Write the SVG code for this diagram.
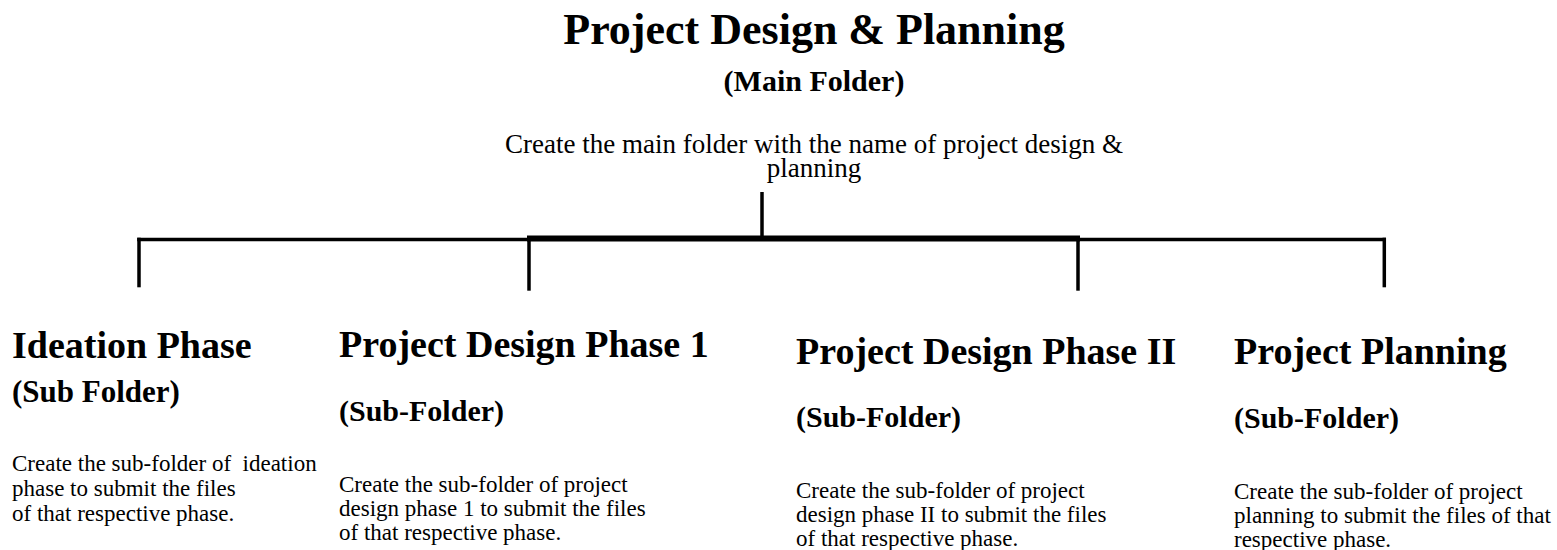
<svg xmlns="http://www.w3.org/2000/svg" width="1557" height="550" viewBox="0 0 1557 550">
<style>
text{font-family:"Liberation Serif","Times New Roman",serif;fill:#000}
.t{font-size:44px;font-weight:bold;text-anchor:middle}
.st{font-size:30px;font-weight:bold;text-anchor:middle}
.md{font-size:27px;text-anchor:middle}
.h{font-size:38px;font-weight:bold}
.s{font-size:30px;font-weight:bold}
.d{font-size:23px}
.ln{stroke:#000;fill:none;stroke-linecap:butt}
.thin{stroke-width:3.5}
.thick{stroke-width:6}
</style>
<rect x="0" y="0" width="1557" height="550" fill="#fff"/>
<g id="main">
<text class="t" x="814" y="44">Project Design &amp; Planning</text>
<text class="st" x="814" y="91">(Main Folder)</text>
<text class="md" x="814" y="153">Create the main folder with the name of project design &amp;</text>
<text class="md" x="814" y="177">planning</text>
</g>
<g id="connectors">
<line class="ln thin" x1="762" y1="192" x2="762" y2="238"/>
<line class="ln thick" x1="527" y1="238.5" x2="1080" y2="238.5"/>
<line class="ln thin" x1="137.2" y1="239.5" x2="528" y2="239.5"/>
<line class="ln thin" x1="1078" y1="239.5" x2="1386" y2="239.5"/>
<line class="ln thin" x1="139" y1="237.7" x2="139" y2="287.3"/>
<line class="ln thin" x1="529" y1="237.5" x2="529" y2="290.7"/>
<line class="ln thin" x1="1078" y1="237.5" x2="1078" y2="290.7"/>
<line class="ln thin" x1="1384.3" y1="237.7" x2="1384.3" y2="287.3"/>
</g>
<g id="ideation">
<text class="h" x="12" y="358">Ideation Phase</text>
<text class="s" x="12" y="402" style="font-size:31px">(Sub Folder)</text>
<text class="d" x="12" y="471" xml:space="preserve">Create the sub-folder of  ideation</text>
<text class="d" x="12" y="496">phase to submit the files</text>
<text class="d" x="12" y="521">of that respective phase.</text>
</g>
<g id="design1">
<text class="h" x="339" y="357">Project Design Phase 1</text>
<text class="s" x="339" y="420.5">(Sub-Folder)</text>
<text class="d" x="339" y="492">Create the sub-folder of project</text>
<text class="d" x="339" y="516">design phase 1 to submit the files</text>
<text class="d" x="339" y="540">of that respective phase.</text>
</g>
<g id="design2">
<text class="h" x="796" y="363.5">Project Design Phase II</text>
<text class="s" x="796" y="426.5">(Sub-Folder)</text>
<text class="d" x="796" y="498">Create the sub-folder of project</text>
<text class="d" x="796" y="522">design phase II to submit the files</text>
<text class="d" x="796" y="546">of that respective phase.</text>
</g>
<g id="planning">
<text class="h" x="1234" y="364">Project Planning</text>
<text class="s" x="1234" y="427.5">(Sub-Folder)</text>
<text class="d" x="1234" y="499">Create the sub-folder of project</text>
<text class="d" x="1234" y="522.5">planning to submit the files of that</text>
<text class="d" x="1234" y="546.5">respective phase.</text>
</g>
</svg>
